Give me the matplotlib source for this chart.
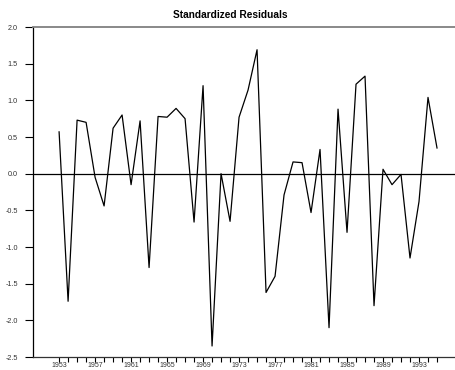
import matplotlib
matplotlib.use('Agg')
import matplotlib.pyplot as plt

# standardized residuals, one per year 1953..1995
years = list(range(1953, 1996))
residuals = [0.57, -1.74, 0.73, 0.70, -0.05, -0.44, 0.62, 0.80, -0.15, 0.72,
             -1.28, 0.78, 0.77, 0.89, 0.75, -0.66, 1.20, -2.35, 0.00, -0.65,
             0.77, 1.14, 1.69, -1.62, -1.40, -0.29, 0.16, 0.15, -0.53, 0.33,
             -2.10, 0.88, -0.80, 1.22, 1.33, -1.80, 0.06, -0.15, -0.01, -1.15,
             -0.38, 1.04, 0.35]
yticks = [-2.5, -2.0, -1.5, -1.0, -0.5, 0.0, 0.5, 1.0, 1.5, 2.0]
xlabels = list(range(1953, 1994, 4))

plt.rcParams['font.family'] = ['Liberation Sans', 'DejaVu Sans']

fig = plt.figure(figsize=(4.56, 3.70), dpi=100)
ax = fig.add_axes([33 / 456, 13 / 370, 422 / 456, 330 / 370])

ax.plot(years, residuals, color='black', linewidth=0.9)
ax.axhline(0, color='black', linewidth=0.9)

ax.set_xlim(1950.1, 1997)
ax.set_ylim(-2.5, 2.0)

ax.set_yticks(yticks)
ax.set_yticklabels(['%.1f' % v for v in yticks])
ax.set_xticks(years)
ax.set_xticklabels([str(y) if y in xlabels else '' for y in years])

ax.tick_params(axis='y', direction='out', length=5.5, width=0.8, pad=5.5,
               labelsize=5.2, labelcolor='#333333')
ax.tick_params(axis='x', direction='out', length=3.6, width=0.8, pad=0.3,
               labelsize=5.0, labelcolor='#333333')

ax.spines['right'].set_visible(False)
ax.spines['top'].set_color('#808080')
ax.spines['top'].set_linewidth(1.3)
ax.spines['left'].set_linewidth(0.9)
ax.spines['bottom'].set_linewidth(0.9)
ax.spines['bottom'].set_color('#333333')

fig.text(0.505, 1 - 15 / 370, 'Standardized Residuals', ha='center', va='center',
         fontsize=7.3, fontweight='bold')

fig.savefig('out.png', dpi=100)
